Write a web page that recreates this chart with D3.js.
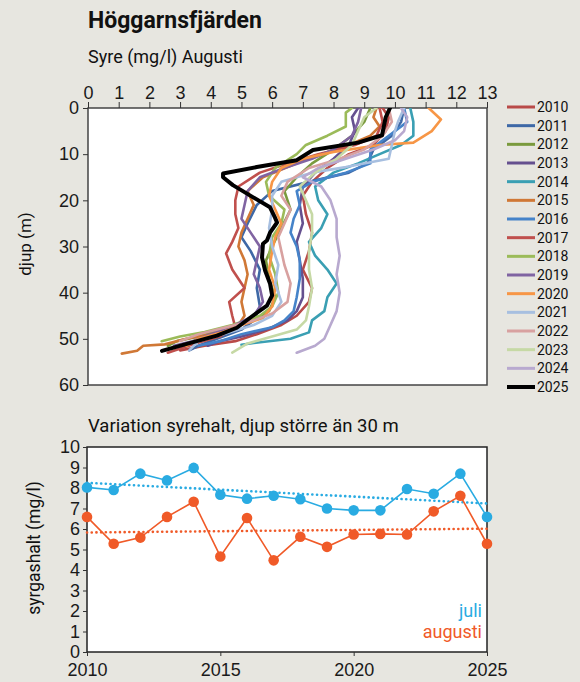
<!DOCTYPE html>
<html>
<head>
<meta charset="utf-8">
<script src="https://cdn.jsdelivr.net/npm/d3@7/dist/d3.min.js"></script>
<style>
  body { margin: 0; background: #e7e6e0; }
  svg { display: block; font-family: Roboto, "DejaVu Sans", sans-serif; }
  .axis text { font-size: 18px; fill: #1a1a1a; }
  .axis path, .axis line { stroke: #333; }
</style>
</head>
<body>
<script>
// ---- data: oxygen profiles (value mg/l, depth m), August ----
var years = ["2010","2011","2012","2013","2014","2015","2016","2017","2018","2019","2020","2021","2022","2023","2024","2025"];
var yearColors = ["#b94a48","#3e68a6","#7a9a3d","#65508f","#3a9fb3","#d07836","#4583c9","#c0504d",
                  "#9bbb59","#8064a2","#f79646","#a7bfe0","#d8a1a0","#c6d9a5","#b8a9cf","#000000"];

var p2010 = [[9.6,0],[9.8,2],[9.7,5],[9.3,8],[8.5,10],[7.8,13],[7.3,16],[7.0,19],[7.1,23],[7.3,27],[7.2,31],[7.0,35],[7.3,39],[7.2,42],[6.8,45],[6.3,47],[5.5,49],[4.8,50.5],[3.8,51.5],[3.0,52.5]];
var p2011 = [[10.3,0],[10.2,3],[9.9,6],[9.3,9],[9.1,12],[8.5,14],[7.2,16],[6.0,18],[5.5,21],[5.2,25],[5.0,28],[5.3,31],[5.6,35],[5.5,39],[5.6,43],[5.4,46],[5.0,48],[4.2,50],[3.6,51.5],[3.3,52.5]];
var p2012 = [[9.2,0],[9.0,3],[8.6,6],[8.0,9],[7.3,12],[6.8,15],[6.4,18],[6.6,22],[6.3,26],[6.0,30],[5.8,33],[5.9,37],[6.1,41],[5.9,44],[5.4,46],[4.4,48],[3.6,49.5],[2.9,50.5],[2.6,51.5]];
var p2013 = [[8.8,0],[8.6,2],[8.7,5],[8.5,8],[8.0,11],[7.4,14],[7.0,17],[6.9,21],[7.0,25],[6.8,29],[6.9,33],[7.0,37],[7.0,41],[6.8,44],[6.5,46],[5.8,48],[5.0,49.5],[4.3,50.5],[3.9,51.5]];
var p2014 = [[10.5,0],[10.6,3],[10.6,6],[10.2,8],[9.5,10],[8.8,12],[8.0,14],[7.4,17],[7.5,20],[7.8,23],[7.6,26],[7.2,29],[7.4,32],[7.8,35],[8.1,38],[7.8,41],[7.7,44],[7.3,46],[7.2,48.6],[6.6,50],[5.4,50.9],[5.0,51.3]];
var p2015 = [[9.4,0],[9.3,2],[9.5,4],[9.2,6],[8.5,8],[7.6,10],[6.8,12],[5.7,15],[5.2,18],[5.4,21],[5.2,24],[5.0,27],[4.9,30],[5.1,33],[5.2,36],[5.1,39],[5.0,42],[5.1,45],[4.9,47],[4.0,49],[3.2,50],[2.5,51.2],[1.8,51.5],[1.6,52.6],[1.1,53.2]];
var p2016 = [[10.3,0],[10.4,3],[9.8,6],[9.2,9],[9.2,12],[8.4,14],[7.3,16],[6.8,18],[6.9,21],[6.7,24],[6.6,27],[6.8,30],[6.9,33],[6.9,37],[6.8,41],[6.7,44],[6.4,46],[6.0,47.5],[5.0,49],[4.3,50.5],[3.6,51.5]];
var p2017 = [[9.5,0],[9.6,3],[9.4,6],[8.7,8],[7.5,10],[6.5,12],[5.6,14],[4.9,17],[4.8,20],[4.8,23],[4.9,26],[4.7,29],[4.5,31.5],[4.7,35],[5.1,39],[4.6,42],[4.7,45],[4.8,47.5],[4.3,49.5],[3.5,51],[2.6,53]];
var p2018 = [[8.6,0],[8.4,1],[8.4,4],[7.8,6],[7.1,8],[6.8,10],[6.1,13],[5.8,16],[5.9,19],[6.4,22],[6.3,25],[6.0,28],[5.9,32],[6.1,36],[6.2,40],[6.0,43],[5.6,45],[4.7,47],[3.8,48.5],[3.0,49.5],[2.4,50.5]];
var p2019 = [[8.9,0],[8.8,3],[8.6,6],[8.0,9],[7.3,11],[6.4,13],[5.6,15],[5.2,18],[5.1,21],[5.0,24],[5.3,27],[5.6,30],[5.5,33],[5.4,36],[5.6,39],[5.7,42],[5.4,45],[4.8,47],[4.0,49],[3.4,50.5],[2.8,51.5]];
var p2020 = [[11.1,0],[11.5,2.5],[11.2,5],[10.6,7.5],[9.5,8],[8.0,9.5],[7.0,11],[6.3,13],[6.0,16],[5.9,19],[6.1,22],[6.3,25],[6.1,28],[6.0,31],[5.9,35],[6.1,39],[6.0,43],[5.7,45.5],[5.0,47],[4.4,48.5],[3.6,50],[3.2,51.5]];
var p2021 = [[10.3,0],[10.1,3],[10.0,5],[9.9,8],[9.8,11],[8.4,12.8],[7.3,14],[6.3,16],[6.0,19],[6.0,22],[5.9,26],[6.0,30],[6.2,34],[6.1,38],[6.3,42],[6.0,45],[5.4,47],[4.4,49],[3.6,50.5],[3.3,52.5]];
var p2022 = [[9.8,0],[9.9,3],[9.6,6],[9.0,9],[8.2,11],[7.2,13],[6.5,16],[6.3,19],[6.6,22],[6.4,25],[6.2,28],[6.3,31],[6.4,34],[6.6,38],[6.5,42],[6.0,44.5],[5.4,46],[4.5,47.5],[3.6,49],[3.0,50.5]];
var p2023 = [[9.4,0],[9.0,2],[8.8,5],[8.6,8],[8.1,11],[7.4,14],[6.9,17],[7.1,20],[7.3,23],[7.3,27],[7.2,31],[7.2,35],[7.3,39],[7.2,43],[7.1,46],[6.8,48],[6.0,49.5],[5.2,51],[4.7,53]];
var p2024 = [[10.2,0],[10.4,2],[10.3,5],[10.0,7],[9.3,9],[8.4,11],[7.5,13],[7.0,15],[7.6,17],[7.9,20],[8.1,24],[8.1,28],[8.2,32],[8.1,36],[8.2,40],[8.1,44],[7.9,47],[7.7,50],[7.4,51.5],[6.8,53]];
var p2025 = [[9.84,0],[9.7,2],[9.58,5.9],[8.8,7.5],[7.33,9.1],[6.8,11.3],[5.5,12.8],[4.4,14.2],[4.4,15],[4.72,16.7],[5.37,19.3],[5.93,21.5],[6.09,23.7],[6.16,24.8],[5.93,27],[5.83,28.7],[5.7,29.4],[5.67,32.4],[5.77,35.2],[5.93,38],[6.0,40.6],[5.83,42.8],[5.37,45],[4.85,47.6],[4.2,49.3],[3.22,51.1],[2.41,52.6]];
var profiles = [p2010,p2011,p2012,p2013,p2014,p2015,p2016,p2017,p2018,p2019,p2020,p2021,p2022,p2023,p2024,p2025];

// ---- data: mean oxygen below 30 m ----
var seasonYears = [2010,2011,2012,2013,2014,2015,2016,2017,2018,2019,2020,2021,2022,2023,2024,2025];
var juli    = [8.03,7.9,8.7,8.37,8.98,7.67,7.48,7.62,7.45,7.0,6.91,6.91,7.95,7.72,8.7,6.59];
var augusti = [6.59,5.28,5.58,6.59,7.33,4.66,6.54,4.47,5.62,5.13,5.73,5.76,5.73,6.86,7.62,5.28];

var xTicksTop = d3.range(0, 14);
var yTicksTop = [0,10,20,30,40,50,60];
var yTicksBottom = d3.range(0, 11);
var xTicksBottom = [2010,2015,2020,2025];

(function (d3) {
  "use strict";

  var W = 580, H = 682;
  var svg = d3.select("body").append("svg").attr("width", W).attr("height", H);

  /***** Titles *****/
  svg.append("text").attr("x", 88).attr("y", 28).attr("font-size", 23).attr("font-weight", "bold")
    .attr("fill", "#111").text("Höggarnsfjärden");
  svg.append("text").attr("x", 88).attr("y", 63).attr("font-size", 18).attr("fill", "#111")
    .text("Syre (mg/l) Augusti");

  /***** Top chart: profiles *****/
  var box1 = {l: 88, r: 487, t: 108, b: 385};
  var x1 = d3.scaleLinear().domain([0, 13]).range([box1.l, box1.r]);
  var y1 = d3.scaleLinear().domain([0, 60]).range([box1.t, box1.b]);

  svg.append("rect").attr("x", box1.l).attr("y", box1.t).attr("width", box1.r - box1.l).attr("height", box1.b - box1.t)
    .attr("fill", "#fff").attr("stroke", "#444").attr("stroke-width", 1.5);

  svg.append("g").attr("class", "axis").attr("transform", "translate(0," + box1.t + ")")
    .call(d3.axisTop(x1).tickValues(xTicksTop).tickSize(6).tickPadding(3).tickFormat(d3.format("d")))
    .call(g => g.select(".domain").remove());
  svg.append("g").attr("class", "axis").attr("transform", "translate(" + box1.l + ",0)")
    .call(d3.axisLeft(y1).tickValues(yTicksTop).tickSize(5).tickPadding(4))
    .call(g => g.select(".domain").remove());

  svg.append("text").attr("transform", "translate(31,244) rotate(-90)").attr("text-anchor", "middle")
    .attr("font-size", 17).attr("fill", "#111").text("djup (m)");

  var profLine = d3.line().x(d => x1(d[0])).y(d => y1(d[1]));
  svg.append("clipPath").attr("id", "clipTop").append("rect")
    .attr("x", box1.l).attr("y", box1.t).attr("width", box1.r - box1.l).attr("height", box1.b - box1.t);
  var pg = svg.append("g").attr("clip-path", "url(#clipTop)");
  profiles.forEach(function (p, i) {
    pg.append("path").attr("d", profLine(p)).attr("fill", "none")
      .attr("stroke", yearColors[i]).attr("stroke-width", i === 15 ? 4 : 2.6)
      .attr("stroke-linejoin", "round").attr("stroke-linecap", "round");
  });

  // legend
  var leg = d3.scaleLinear().domain([0, 15]).range([107, 387]);
  years.forEach(function (yr, i) {
    svg.append("line").attr("x1", 507).attr("x2", 535).attr("y1", leg(i)).attr("y2", leg(i))
      .attr("stroke", yearColors[i]).attr("stroke-width", i === 15 ? 4 : 3);
    svg.append("text").attr("x", 537).attr("y", leg(i)).attr("dy", "0.36em").attr("font-size", 14)
      .attr("fill", "#111").text(yr);
  });

  /***** Bottom chart: mean below 30 m *****/
  svg.append("text").attr("x", 88).attr("y", 432).attr("font-size", 18.5).attr("fill", "#111")
    .text("Variation syrehalt, djup större än 30 m");

  var box2 = {l: 87, r: 487, t: 447, b: 652};
  var x2 = d3.scaleLinear().domain([2010, 2025]).range([box2.l, box2.r]);
  var y2 = d3.scaleLinear().domain([0, 10]).range([box2.b, box2.t]);

  svg.append("rect").attr("x", box2.l).attr("y", box2.t).attr("width", box2.r - box2.l).attr("height", box2.b - box2.t)
    .attr("fill", "#fff").attr("stroke", "#222").attr("stroke-width", 1.5);

  svg.append("g").attr("class", "axis").attr("transform", "translate(" + box2.l + ",0)")
    .call(d3.axisLeft(y2).tickValues(yTicksBottom).tickSize(4).tickPadding(3))
    .call(g => g.select(".domain").remove())
    .call(g => g.selectAll("text").attr("font-size", 19));
  svg.append("g").attr("class", "axis").attr("transform", "translate(0," + box2.b + ")")
    .call(d3.axisBottom(x2).tickValues(xTicksBottom).tickSize(4).tickPadding(7).tickFormat(d3.format("d")))
    .call(g => g.select(".domain").remove())
    .call(g => g.selectAll("text").attr("font-size", 20));

  svg.append("text").attr("transform", "translate(40,548) rotate(-90)").attr("text-anchor", "middle")
    .attr("font-size", 17.5).attr("fill", "#111").text("syrgashalt (mg/l)");

  // least-squares trend of each season
  function trend(vals) {
    var mx = d3.mean(seasonYears), my = d3.mean(vals);
    var num = d3.sum(seasonYears, (t, i) => (t - mx) * (vals[i] - my));
    var den = d3.sum(seasonYears, t => (t - mx) * (t - mx));
    var b = num / den;
    return [[2010, my + b * (2010 - mx)], [2025, my + b * (2025 - mx)]];
  }

  var series = [
    {name: "juli", vals: juli, color: "#29abe2"},
    {name: "augusti", vals: augusti, color: "#f05a28"}
  ];
  var l2 = d3.line().x(d => x2(d[0])).y(d => y2(d[1]));
  series.forEach(function (s) {
    svg.append("path").attr("d", l2(trend(s.vals))).attr("fill", "none").attr("stroke", s.color)
      .attr("stroke-width", 2.6).attr("stroke-dasharray", "0.1,4.6").attr("stroke-linecap", "round");
  });
  series.forEach(function (s) {
    var pts = seasonYears.map((t, i) => [t, s.vals[i]]);
    svg.append("path").attr("d", l2(pts)).attr("fill", "none").attr("stroke", s.color).attr("stroke-width", 1.6);
    svg.append("g").selectAll("circle").data(pts).join("circle")
      .attr("cx", d => x2(d[0])).attr("cy", d => y2(d[1])).attr("r", 5.3).attr("fill", s.color);
  });

  svg.append("text").attr("x", 482).attr("y", 617).attr("text-anchor", "end").attr("font-size", 18)
    .attr("fill", "#29abe2").text("juli");
  svg.append("text").attr("x", 482).attr("y", 638).attr("text-anchor", "end").attr("font-size", 18)
    .attr("fill", "#f05a28").text("augusti");
})(d3);
</script>
</body>
</html>
